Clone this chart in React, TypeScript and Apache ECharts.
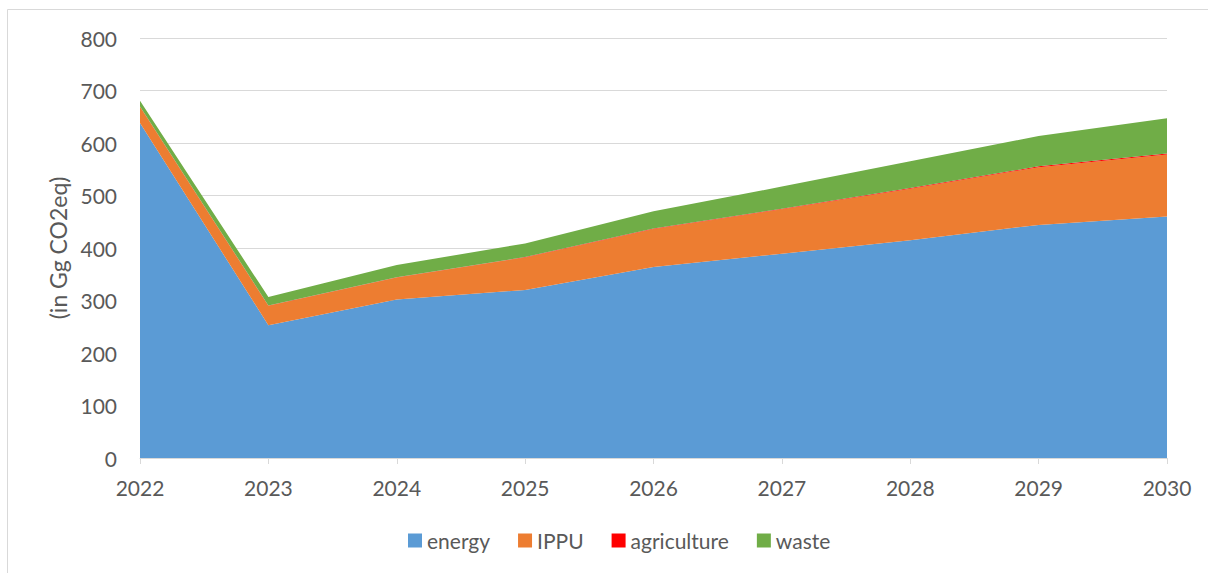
import React, { useEffect, useRef } from "react";
import * as echarts from "echarts";

const years = ["2022", "2023", "2024", "2025", "2026", "2027", "2028", "2029", "2030"];
const energy = [638, 253, 302, 320, 364, 389, 415, 444, 460];
const ippu = [31, 37, 42, 62, 72, 85, 98, 110, 118];
const agriculture = [0.5, 0.5, 0.5, 0.8, 1, 1, 1.2, 1.5, 2];
const waste = [11, 16, 23, 26, 33, 42, 51, 58, 67];
const yTicks = { min: 0, max: 800, interval: 100 };

const FONT = "Lato";
const GREY = "#595959";
const FS = 21;

export default function App() {
  const ref = useRef<HTMLDivElement>(null);
  useEffect(() => {
    if (!ref.current) return;
    const chart = echarts.init(ref.current, undefined, { renderer: "svg" });
    const mk = (name: string, data: number[], color: string) => ({
      name,
      type: "line",
      stack: "total",
      data,
      showSymbol: false,
      symbol: "none",
      lineStyle: { width: 0 },
      areaStyle: { color, opacity: 1 },
      itemStyle: { color },
    });
    chart.setOption({
      animation: false,
      textStyle: { fontFamily: FONT },
      graphic: [
        {
          type: "rect",
          shape: { x: 7.5, y: 9.5, width: 1220, height: 600 },
          style: { fill: "none", stroke: "#d9d9d9", lineWidth: 1 },
          silent: true,
        },
      ],
      grid: { left: 140, right: 41, top: 38, bottom: 115 },
      legend: {
        bottom: 17,
        left: 403,
        itemWidth: 14,
        itemHeight: 14,
        itemGap: 28,
        icon: "rect",
        textStyle: { fontSize: FS, color: GREY, fontFamily: FONT },
        data: ["energy", "IPPU", "agriculture", "waste"],
      },
      xAxis: {
        type: "category",
        data: years,
        boundaryGap: false,
        axisLine: { lineStyle: { color: "#d9d9d9", width: 1 } },
        axisTick: { show: true, length: 6, lineStyle: { color: "#d9d9d9" } },
        axisLabel: { fontSize: FS, color: GREY, margin: 19, fontFamily: FONT },
        splitLine: { show: false },
      },
      yAxis: {
        type: "value",
        min: yTicks.min,
        max: yTicks.max,
        interval: yTicks.interval,
        name: "(in Gg CO2eq)",
        nameLocation: "middle",
        nameGap: 71,
        nameTextStyle: { fontSize: 23, color: GREY, fontFamily: FONT },
        axisLine: { show: false },
        axisTick: { show: false },
        axisLabel: { fontSize: FS, color: GREY, margin: 23, fontFamily: FONT },
        splitLine: { lineStyle: { color: "#d9d9d9", width: 1 } },
      },
      series: [
        mk("energy", energy, "#5B9BD5"),
        mk("IPPU", ippu, "#ED7D31"),
        mk("agriculture", agriculture, "#FF0000"),
        mk("waste", waste, "#70AD47"),
      ],
    });
    return () => chart.dispose();
  }, []);
  return (
    <div
      ref={ref}
      style={{ position: "absolute", left: 0, top: 0, width: 1208, height: 573, background: "#fff" }}
    />
  );
}
